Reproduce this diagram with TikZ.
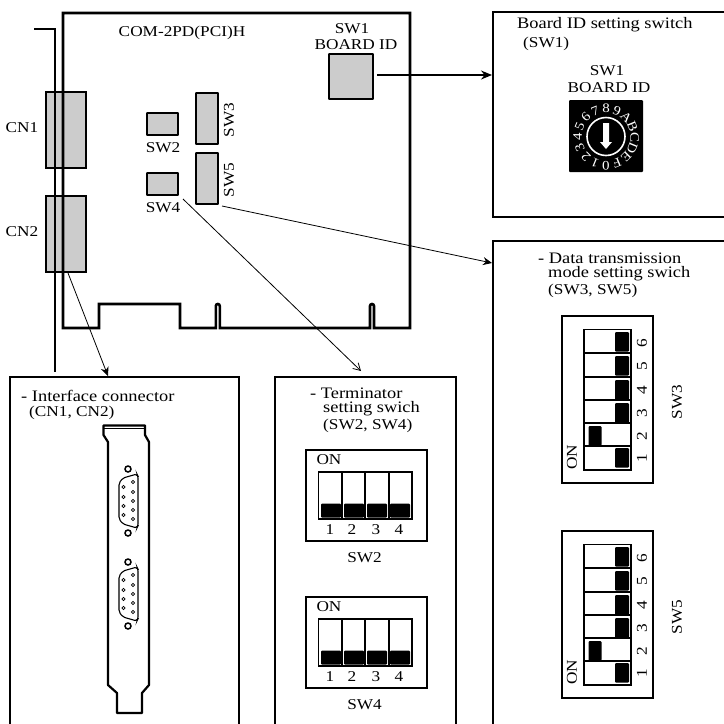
\documentclass[tikz,border=0pt]{standalone}
\usepackage{fontspec}
\setmainfont[FakeStretch=1.15]{Liberation Serif}
\usetikzlibrary{arrows.meta}
\definecolor{gr}{HTML}{CCCCCC}
\tikzset{
 lab/.style={inner sep=0pt,font=\fontsize{15}{15}\selectfont,text=black},
 labl/.style={inner sep=0pt,font=\fontsize{16}{16}\selectfont,text=black,anchor=west},
 thick2/.style={line width=2.6pt},
 panel/.style={line width=2pt,draw=black},
 part/.style={line width=1.8pt,draw=black,fill=gr,rounded corners=.5pt},
 cnbox/.style={line width=2.8pt,draw=black,fill=gr},
 dip/.style={line width=1.6pt,draw=black},
 lever/.style={fill=black,rounded corners=1pt},
 conn/.style={line width=.8pt,-{Stealth[length=9pt,width=8pt]}},
 oconn/.style={line width=.8pt,-{Straight Barb[length=7pt,width=8pt]}},
}
\begin{document}
\begin{tikzpicture}[x=1pt,y=-1pt]
\useasboundingbox (0,0) rectangle (724,724);
% bracket & parts
\node[cnbox,minimum width=40pt,minimum height=76pt,inner sep=0pt] (cn1) at (66,130) {};
\node[cnbox,minimum width=40pt,minimum height=76pt,inner sep=0pt] (cn2) at (66,234) {};
\draw[line width=2pt] (34,29)--(55,29)--(55,372);
\draw[thick2] (63,328) -- (63,13) -- (410,13) -- (410,328) -- (374,328) -- (374,306) arc[start angle=0,end angle=-180,radius=2] -- (370,328) -- (219.8,328) -- (219.8,306) arc[start angle=0,end angle=-180,radius=2] -- (215.8,328) -- (180,328) -- (180,304) -- (99,304) -- (99,328) -- cycle;
\node[part,minimum width=44pt,minimum height=45pt,inner sep=0pt] (sw1) at (351,76.5) {};
\node[part,minimum width=31pt,minimum height=22pt,inner sep=0pt] (sw2) at (162.5,124) {};
\node[part,minimum width=31pt,minimum height=22pt,inner sep=0pt] (sw4) at (162.5,184) {};
\node[part,minimum width=22pt,minimum height=51pt,inner sep=0pt] (sw3) at (207,118.5) {};
\node[part,minimum width=22pt,minimum height=51pt,inner sep=0pt] (sw5) at (207,178.5) {};
\node[lab] (t1) at (182,33) {COM-2PD(PCI)H};
\node[lab] (t2) at (352,29) {SW1};
\node[lab] (t3) at (356,45) {BOARD ID};
\node[lab] (t4) at (22,128) {CN1};
\node[lab] (t5) at (22,232) {CN2};
\node[lab] (t6) at (163,148) {SW2};
\node[lab] (t7) at (163,207.5) {SW4};
\node[lab,rotate=90] (t8) at (229,120) {SW3};
\node[lab,rotate=90] (t9) at (229,180) {SW5};
% panels
\draw[panel] (238.5,740)--(238.5,377)--(10,377)--(10,740);
\draw[panel] (456,740)--(456,377)--(275,377)--(275,740);
\draw[panel] (730,216.5)--(493,216.5)--(493,12)--(730,12);
\draw[panel] (730,241)--(493,241)--(493,740);
% connectors
\coordinate (a0) at (377,75); \coordinate (a1) at (492,75);
\draw[line width=1.3pt,-{Stealth[length=11pt,width=9pt]}] (a0)--(a1);
\coordinate (b0) at (222,206); \coordinate (b1) at (492,263);
\draw[conn] (b0)--(b1);
\coordinate (c0) at (183,199); \coordinate (c1) at (361,371);
\draw[oconn] (c0)--(c1);
\coordinate (d0) at (68,273); \coordinate (d1) at (108,376);
\draw[conn] (d0)--(d1);
% panel texts
\node[labl] (u1) at (517,25) {Board ID setting switch};
\node[lab,anchor=west] (u2) at (523,44) {(SW1)};
\node[lab] (u3) at (607,71) {SW1};
\node[lab] (u4) at (609,88) {BOARD ID};
\node[labl] (v1) at (538,258) {- Data transmission};
\node[labl] (v2) at (548,274) {mode setting swich};
\node[lab,anchor=west] (v3) at (548,291) {(SW3, SW5)};
\node[labl] (w1) at (21,396) {- Interface connector};
\node[lab,anchor=west] (w2) at (29,413) {(CN1, CN2)};
\node[labl] (x1) at (310,393) {- Terminator};
\node[labl] (x2) at (323,409) {setting swich};
\node[lab,anchor=west] (x3) at (323,426) {(SW2, SW4)};
% rotary
\fill[black,rounded corners=1pt] (569,100) rectangle (643,172);
\foreach \c/\a in {0/90,1/112.5,2/135,3/157.5,4/180,5/202.5,6/225,7/247.5,8/270,9/292.5,A/315,B/337.5,C/360,D/382.5,E/405,F/427.5}{
 \pgfmathsetmacro{\rr}{270-\a}
 \node[font=\fontsize{13}{13}\selectfont,text=white,inner sep=0pt,rotate=\rr] at ([shift={(\a:28.5)}]606,137) {\c};
}
\draw[white,line width=1.6pt] (606,136.5) circle[radius=19];
\fill[white] (603,123)--(609,123)--(609,142)--(612,142)--(606,149)--(600,142)--(603,142)--cycle;
% terminator DIPs
\foreach \yo/\n in {0/SW2,147/SW4}{
 \begin{scope}[yshift=-\yo pt]
 \draw[line width=1.6pt] (306,450) rectangle (427,541);
 \node[lab] at (329,460) {ON};
 \draw[dip] (318.5,472) rectangle (412,519);
 \draw[dip] (342,472)--(342,519) (365,472)--(365,519) (389,472)--(389,519);
 \foreach \xa/\dx/\d in {321/330/1,344/352/2,367/376/3,390/399/4}{
  \fill[lever] (\xa,503.5) rectangle +(20,14);
  \node[lab] at (\dx,530) {\d};
 }
 \node[lab] at (364.5,558) {\n};
 \end{scope}
}
% data DIPs
\foreach \yo/\n in {0/SW3,215/SW5}{
 \begin{scope}[yshift=-\yo pt]
 \draw[line width=1.6pt] (562,316) rectangle (653,483);
 \node[lab,rotate=90] at (572,457) {ON};
 \draw[dip] (584,329.5) rectangle (631,470);
 \draw[dip] (584,353)--(631,353) (584,377)--(631,377) (584,400)--(631,400) (584,423)--(631,423) (584,446)--(631,446);
 \foreach \ya in {332,356,380,403,448}{
  \fill[lever] (615,\ya) rectangle +(14,19.5);
 }
 \fill[lever] (588.5,426) rectangle +(13,19.5);
 \foreach \ya/\d in {343/6,366/5,390/4,413/3,436/2,458/1}{
  \node[lab,rotate=90] at (642,\ya) {\d};
 }
 \node[lab,rotate=90] at (677,402) {\n};
 \end{scope}
}
% bracket picture
\draw[line width=2.2pt,line join=round] (103.5,435)--(103.5,425.5)--(145,425.5)--(145,435)--(149,442)--(149,685)--(142,693)--(142,713)--(117,713)--(117,693)--(108,685)--(108,442)--cycle;
\draw[line width=.7pt] (104,428.5)--(144.5,428.5);
\foreach \yo in {0,93}{
 \begin{scope}[yshift=-\yo pt]
 \draw[line width=1.5pt] (128,469) circle[radius=3];
 \draw[line width=1.5pt] (128,533) circle[radius=3];
 \draw[line width=1.1pt,rounded corners=2pt] (119,483)--(123,478)--(137,474)--(138,476)--(138,526)--(137,528)--(123,524)--(119,519)--cycle;
 \foreach \py in {487,497,506,515}{\draw[line width=.7pt] (123.5,\py) circle[radius=1.6];}
 \foreach \py in {482,492,501,510,519}{\draw[line width=.7pt] (133,\py) circle[radius=1.6];}
 \end{scope}
}
\end{tikzpicture}
\end{document}
